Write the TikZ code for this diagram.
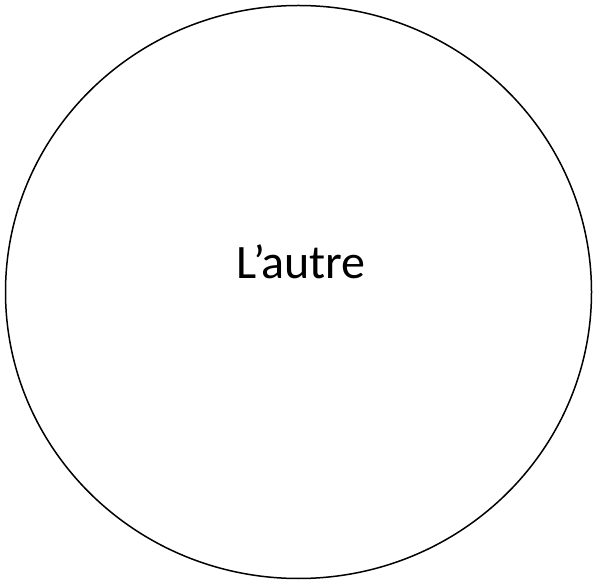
\documentclass[tikz,border=0pt]{standalone}
\usepackage{fontspec}
\setmainfont{Carlito}
\begin{document}
\begin{tikzpicture}[x=1pt,y=1pt,
  outline/.style={draw=black,line width=1.5pt},
  label/.style={font=\fontsize{48}{58}\selectfont,inner sep=0pt}]
\useasboundingbox (0,0) rectangle (597,584);
\draw[outline] (298.5,292) ellipse [x radius=293, y radius=286.5];
\node[label,anchor=base] (t) at (301,305) {L’autre};
\end{tikzpicture}
\end{document}
